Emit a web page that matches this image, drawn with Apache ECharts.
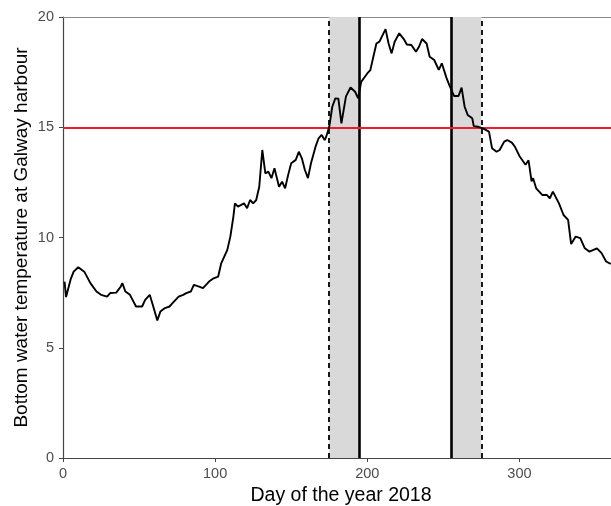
<!DOCTYPE html>
<html>
<head>
<meta charset="utf-8">
<title>Bottom water temperature, Galway harbour 2018</title>
<script src="https://cdn.jsdelivr.net/npm/echarts@6/dist/echarts.min.js"></script>
<style>
  html, body { margin: 0; padding: 0; background: #fff; }
  #chart { width: 611px; height: 506px; }
</style>
</head>
<body>
<div id="chart"></div>
<script>
// Day of year and daily bottom water temperature (°C)
const dayOfYear = [1, 2, 5, 7, 10, 14, 18, 22, 25, 29, 31, 35, 38, 39, 41, 44, 48, 52, 54, 57,
  59, 62, 64, 67, 70, 72, 76, 79, 81, 84, 86, 89, 92, 96, 99, 102, 104, 108, 110, 112,
  113, 115, 119, 121, 123, 125, 127, 129, 131, 133, 135, 137, 139, 142, 144, 146, 148, 150, 153, 155,
  157, 159, 161, 163, 166, 168, 170, 172, 173, 175, 177, 179, 181, 183, 186, 189, 192, 194, 196, 200,
  202, 204, 206, 208, 212, 214, 216, 218, 221, 224, 226, 229, 232, 234, 236, 239, 241, 244, 247, 249,
  252, 254, 257, 260, 262, 264, 266, 269, 270, 273, 276, 280, 282, 285, 287, 290, 292, 295, 297, 300,
  304, 306, 308, 309, 311, 315, 318, 320, 322, 326, 329, 332, 334, 337, 340, 343, 346, 351, 354, 357, 360];
const bottomTemp = [8.0, 7.3, 8.1, 8.45, 8.65, 8.45, 7.93, 7.55, 7.4, 7.32, 7.48, 7.5, 7.78, 7.93, 7.55, 7.4, 6.87, 6.87, 7.17, 7.4,
  6.95, 6.24, 6.64, 6.8, 6.87, 7.02, 7.32, 7.4, 7.48, 7.55, 7.85, 7.78, 7.7, 8.0, 8.15, 8.23, 8.83, 9.44, 10.04, 10.95,
  11.55, 11.4, 11.55, 11.33, 11.7, 11.55, 11.7, 12.3, 13.97, 12.91, 12.99, 12.69, 13.14, 12.3, 12.53, 12.23, 12.84, 13.37, 13.52, 13.89,
  13.59, 13.06, 12.69, 13.37, 14.12, 14.5, 14.65, 14.42, 14.57, 15.02, 15.93, 16.31, 16.3, 15.18, 16.4, 16.8, 16.61, 16.31, 17.06, 17.44,
  17.59, 18.2, 18.8, 18.88, 19.45, 18.8, 18.35, 18.88, 19.26, 19.0, 18.75, 18.73, 18.42, 18.65, 19.0, 18.8, 18.2, 18.05, 17.6, 17.9,
  17.25, 16.9, 16.42, 16.42, 16.8, 15.93, 15.56, 15.41, 15.05, 15.02, 14.95, 14.8, 14.05, 13.89, 13.97, 14.35, 14.42, 14.3, 14.12, 13.7,
  13.3, 13.5, 12.55, 12.69, 12.23, 11.93, 11.93, 11.78, 12.08, 11.55, 11.02, 10.8, 9.7, 10.04, 9.97, 9.51, 9.36, 9.51, 9.29, 8.91, 8.8];

// Temperature threshold and seasonal window markers (day of year)
const tempThreshold = 15;
const windowBands = [[175, 195], [255, 275]];
const solidMarkerDays = [195, 255];
const dashedMarkerDays = [175, 275];

// Axis settings (visible day range ends just past day 360)
const xRange = [0, 360.2];
const xTicks = [0, 100, 200, 300];
const yTicks = [0, 5, 10, 15, 20];

const seriesData = dayOfYear.map((d, i) => [d, bottomTemp[i]]);

const FONT = '"Liberation Sans", Arial, sans-serif';
const chart = echarts.init(document.getElementById('chart'), null, { renderer: 'canvas' });

const markLines = [];
solidMarkerDays.forEach(d => markLines.push({
  xAxis: d, lineStyle: { color: '#000', width: 2.6, type: 'solid' }
}));
dashedMarkerDays.forEach(d => markLines.push({
  xAxis: d, lineStyle: { color: '#000', width: 1.8, type: [5, 4] }
}));
markLines.push({
  yAxis: tempThreshold, lineStyle: { color: '#ee1c2e', width: 2.2, type: 'solid' }
});

chart.setOption({
  animation: false,
  backgroundColor: '#fff',
  grid: { left: 63, top: 17, right: 0, bottom: 48, containLabel: false, outerBoundsMode: 'none' },
  xAxis: [{
    type: 'value', min: xRange[0], max: xRange[1], interval: 100,
    name: 'Day of the year 2018', nameLocation: 'middle', nameGap: 19,
    nameTextStyle: { color: '#000', fontSize: 19.5, fontFamily: FONT, padding: [0, 0, 0, 8] },
    axisLine: { show: true, lineStyle: { color: '#444', width: 1.2 } },
    axisTick: { show: true, length: 4, lineStyle: { color: '#444' }, customValues: xTicks },
    axisLabel: { color: '#4d4d4d', fontSize: 14.5, fontFamily: FONT, margin: 8, customValues: xTicks },
    splitLine: { show: false }
  }, {
    type: 'value', position: 'top', min: xRange[0], max: xRange[1],
    axisLine: { show: true, lineStyle: { color: '#8a8a8a', width: 1.2 } },
    axisTick: { show: false }, axisLabel: { show: false }, splitLine: { show: false }
  }],
  yAxis: {
    type: 'value', min: 0, max: 20, interval: 5,
    name: 'Bottom water temperature at Galway harbour', nameLocation: 'middle', nameGap: 32,
    nameMoveOverlap: false,
    nameTextStyle: { color: '#000', fontSize: 19, fontFamily: FONT },
    axisLine: { show: true, lineStyle: { color: '#444', width: 1.2 } },
    axisTick: { show: true, length: 4, lineStyle: { color: '#444' }, customValues: yTicks },
    axisLabel: { color: '#4d4d4d', fontSize: 14.5, fontFamily: FONT, margin: 9, customValues: yTicks },
    splitLine: { show: false }
  },
  series: [{
    type: 'line',
    data: seriesData,
    showSymbol: false,
    lineStyle: { color: '#000', width: 1.9 },
    z: 5,
    markArea: {
      silent: true,
      itemStyle: { color: '#d9d9d9' },
      data: windowBands.map(b => [{ xAxis: b[0] }, { xAxis: b[1] }])
    },
    markLine: {
      silent: true, symbol: 'none', label: { show: false },
      data: markLines
    }
  }]
});
</script>
</body>
</html>
